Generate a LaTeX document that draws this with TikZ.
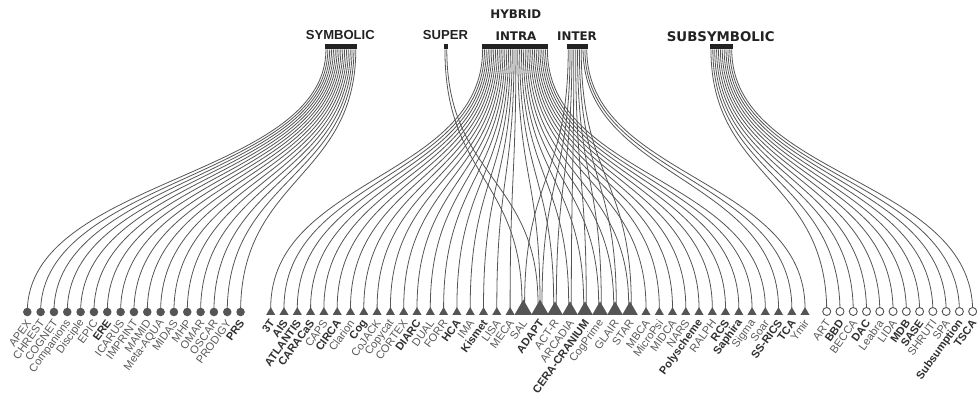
\documentclass[tikz,border=0pt]{standalone}
\usepackage{fontspec}
\setmainfont{Liberation Sans}
\newfontfamily\titlefont{DejaVu Sans}
\usetikzlibrary{shapes.geometric,calc,backgrounds}
\definecolor{ink}{HTML}{222222}
\definecolor{wirecol}{HTML}{555555}
\definecolor{markcol}{HTML}{555555}
\definecolor{labreg}{HTML}{5A5A5A}
\definecolor{labbold}{HTML}{303030}
\tikzset{
  wire/.style={draw=wirecol, line width=0.6pt},
  barbox/.style={fill=ink, inner sep=0pt, outer sep=0pt, minimum height=4.1pt, anchor=south west},
  symdot/.style={circle, fill=markcol, inner sep=0pt, outer sep=0pt, minimum size=6.4pt},
  subdot/.style={circle, draw=markcol, fill=white, line width=0.7pt, inner sep=0pt, outer sep=0pt, minimum size=6.0pt},
  trimark/.style={regular polygon, regular polygon sides=3, fill=markcol, inner sep=0pt, outer sep=0pt, anchor=side 2},
  leaflab/.style={inner sep=0pt, anchor=east, rotate=54},
  labr/.style={leaflab, text=labreg, font=\fontsize{8.3}{9}\selectfont},
  labb/.style={leaflab, text=labbold, font=\fontsize{8.3}{9}\selectfont\bfseries},
  headtxt/.style={text=ink, inner sep=0pt, font=\fontsize{9.8}{11}\selectfont\bfseries},
  headdv/.style={text=ink, inner sep=0pt, font=\titlefont\fontsize{8.9}{10}\selectfont\bfseries},
}
\begin{document}
\begin{tikzpicture}[x=0.75pt,y=-0.75pt]
\useasboundingbox (0,0) rectangle (977,398);
\coordinate (mid) at (0,178);

% category headings and their bars
\node[headtxt] (tsym) at (340.3,34.7) {SYMBOLIC};
\node[headtxt] (tsup) at (445.5,35) {SUPER};
\node[headdv] (thyb) at (515.8,14.2) {HYBRID};
\node[headdv] (tintra) at (516,35.8) {INTRA};
\node[headdv] (tinter) at (577,35.8) {INTER};
\node[headdv, font=\titlefont\fontsize{10}{11}\selectfont\bfseries] (tsub) at (720.8,36.2) {SUBSYMBOLIC};

\node[barbox, minimum width=23.8pt] (symbolic) at (325,49.5) {};
\node[barbox, minimum width=2.8pt] (super) at (444,49.5) {};
\node[barbox, minimum width=49.95pt] (intra) at (481.7,49.5) {};
\node[barbox, minimum width=15.3pt] (inter) at (567.3,49.5) {};
\node[barbox, minimum width=17pt] (subsym) at (710,49.5) {};

% symbolic architectures
\foreach \nm/\wt [count=\i] in {APEX/r,CHREST/r,COGNET/r,Companions/r,Disciple/r,EPIC/r,ERE/b,ICARUS/r,IMPRINT/r,MAMID/r,Meta-AQUA/r,MIDAS/r,MHP/r,OMAR/r,OSCAR/r,PRODIGY/r,PRS/b} {
  \pgfmathsetmacro\xx{27.3+13.33*(\i-1)}
  \node[symdot] (s\i) at (\xx,312) {};
  \if b\wt
    \node[labb] (ls\i) at (\xx+1.5,321) {\nm};
  \else
    \node[labr] (ls\i) at (\xx+1.5,321) {\nm};
  \fi
}

% hybrid architectures
\foreach \nm/\xx/\wt/\sz [count=\i] in {3T/270.7/b/1,AIS/284.0/b/1,ATLANTIS/297.3/b/1,CARACaS/310.6/b/1,CAPS/323.9/r/1,CIRCA/337.2/b/1,Clarion/350.5/r/1,Cog/363.8/b/1,CoJACK/377.1/r/1,Copycat/390.4/r/1,CORTEX/403.7/r/1,DIARC/417.0/b/1,DUAL/430.3/r/1,FORR/443.6/r/1,HCA/456.9/b/1,IMA/470.2/r/1,Kismet/483.5/b/1,LISA/496.8/r/1,MECA/510.1/r/1,SAL/523.3/r/3,ADAPT/540.0/b/3,ACT-R/555.0/r/2,ARCADIA/570.0/r/2,CERA-CRANIUM/585.0/b/2,CogPrime/600.0/r/2,GLAIR/615.0/r/2,STAR/630.0/r/2,MBCA/646.0/r/1,MicroPsi/659.3/r/1,MIDCA/672.5/r/1,NARS/685.8/r/1,Polyscheme/699.0/b/1,RALPH/712.3/r/1,RCS/725.5/b/1,Saphira/738.8/b/1,Sigma/752.0/r/1,Soar/765.3/r/1,SS-RICS/778.5/b/1,TCA/791.8/b/1,Ymir/805.0/r/1} {
  \pgfmathsetmacro\tsz{\sz==1 ? 7.9 : (\sz==2 ? 13.6 : 15.4)}
  \node[trimark, minimum size=\tsz pt] (h\i) at (\xx,315) {};
  \if b\wt
    \node[labb] (lh\i) at (\xx+1.5,321) {\nm};
  \else
    \node[labr] (lh\i) at (\xx+1.5,321) {\nm};
  \fi
}

% subsymbolic architectures
\foreach \nm/\wt [count=\i] in {ART/r,BBD/b,BECCA/r,DAC/b,Leabra/r,LIDA/r,MDB/b,SASE/b,SHRUTI/r,SPA/r,Subsumption/b,TSCA/b} {
  \pgfmathsetmacro\xx{826.7+13.27*(\i-1)}
  \node[subdot] (e\i) at (\xx,311.5) {};
  \if b\wt
    \node[labb] (le\i) at (\xx+1.5,321) {\nm};
  \else
    \node[labr] (le\i) at (\xx+1.5,321) {\nm};
  \fi
}

\begin{pgfonlayer}{background}
% symbolic links
\foreach \i in {1,...,17} {
  \pgfmathsetmacro\fr{(\i-0.5)/17}
  \coordinate (p) at ($(symbolic.south west)!\fr!(symbolic.south east)$);
  \draw[wire] (p) .. controls (p |- mid) and (s\i.center |- mid) .. (s\i.center);
}
% subsymbolic links
\foreach \i in {1,...,12} {
  \pgfmathsetmacro\fr{(\i-0.5)/12}
  \coordinate (p) at ($(subsym.south west)!\fr!(subsym.south east)$);
  \draw[wire] (p) .. controls (p |- mid) and (e\i.center |- mid) .. (e\i.center);
}
% intra links
\foreach \t/\dx/\dy [count=\k] in {1/0/1,2/0/1,3/0/1,4/0/1,5/0/1,6/0/1,7/0/1,8/0/1,9/0/1,10/0/1,11/0/1,12/0/1,13/0/1,14/0/1,15/0/1,16/0/1,17/0/1,18/0/1,19/0/1,21/0/4,22/-1.3/4,23/-1.3/4,24/-1.3/4,25/-1.3/4,26/-1.3/4,27/-1.3/4,28/0/1,29/0/1,30/0/1,31/0/1,32/0/1,33/0/1,34/0/1,35/0/1,36/0/1,37/0/1} {
  \pgfmathsetmacro\fr{(\k-0.5)/36}
  \coordinate (p) at ($(intra.south west)!\fr!(intra.south east)$);
  \coordinate (q) at ($(h\t.corner 1)+(\dx,\dy)$);
  \draw[wire] (p) .. controls (p |- mid) and (q |- mid) .. (q);
}
% inter links
\foreach \t/\dx/\dy [count=\k] in {20/1.3/4,21/2/4,22/1.3/4,23/1.3/4,24/1.3/4,25/1.3/4,26/1.3/4,27/1.3/4,38/0/1,39/0/1,40/0/1} {
  \pgfmathsetmacro\fr{(\k-0.5)/11}
  \coordinate (p) at ($(inter.south west)!\fr!(inter.south east)$);
  \coordinate (q) at ($(h\t.corner 1)+(\dx,\dy)$);
  \draw[wire] (p) .. controls (p |- mid) and (q |- mid) .. (q);
}
% super links
\foreach \t/\dx/\dy [count=\k] in {20/-1.3/4,21/-2/4} {
  \pgfmathsetmacro\fr{(\k-0.5)/2}
  \coordinate (p) at ($(super.south west)!\fr!(super.south east)$);
  \coordinate (q) at ($(h\t.corner 1)+(\dx,\dy)$);
  \draw[wire] (p) .. controls (p |- mid) and (q |- mid) .. (q);
}
\end{pgfonlayer}
\end{tikzpicture}
\end{document}
